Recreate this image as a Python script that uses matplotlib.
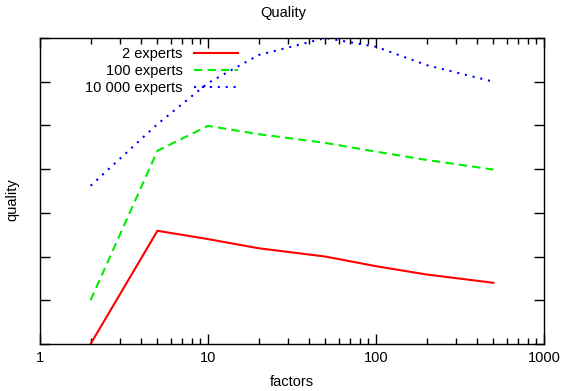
import matplotlib as mpl
mpl.use('Agg')
import matplotlib.pyplot as plt
from matplotlib.ticker import LogLocator, NullFormatter, FixedLocator

plt.rcParams['font.family'] = ['Liberation Sans', 'DejaVu Sans']

factors = [2, 5, 10, 20, 50, 100, 200, 500]
q_2 = [0.0, 2.59, 2.40, 2.19, 2.0, 1.78, 1.59, 1.40]
q_100 = [1.0, 4.42, 4.99, 4.80, 4.60, 4.40, 4.21, 3.99]
q_10000 = [3.62, 5.03, 5.97, 6.61, 7.0, 6.80, 6.38, 6.0]

fig = plt.figure(figsize=(5.67, 3.91), dpi=100)
ax = fig.add_axes([40/567, 1 - 344/391, 504/567, 306/391])

ax.plot(factors, q_2, color='#ff0000', lw=1.5, label='2 experts')
ax.plot(factors, q_100, color='#00ee00', lw=1.5, dashes=(4, 2.5), label='100 experts')
ax.plot(factors, q_10000, color='#0000ff', lw=1.5, dashes=(1, 2.8), label='10 000 experts')

ax.set_xscale('log')
ax.set_xlim(1, 1000)
ax.set_ylim(0, 7)
ax.xaxis.set_major_locator(FixedLocator([1, 10, 100, 1000]))
ax.set_xticklabels(['1', '10', '100', '1000'])
ax.xaxis.set_minor_locator(LogLocator(base=10, subs=range(2, 10)))
ax.xaxis.set_minor_formatter(NullFormatter())
ax.set_yticks(range(8))
ax.set_yticklabels([])
ax.tick_params(which='both', direction='in', top=True, right=True, labelsize=10.5, pad=5)
ax.tick_params(which='major', length=7, width=1)
ax.tick_params(which='minor', length=4, width=1)
for s in ax.spines.values():
    s.set_linewidth(1)

fig.text(283/567, 1 - 13/391, 'Quality', fontsize=10.5, ha='center', va='center')
fig.text(292/567, 1 - 382/391, 'factors', fontsize=10.5, ha='center', va='center')
fig.text(12/567, 1 - 200/391, 'quality', fontsize=10.5, ha='center', va='center', rotation=90)

leg = ax.legend(loc='upper left', frameon=False, fontsize=10.5, markerfirst=False,
                handlelength=3.0, handletextpad=0.8, labelspacing=0.22,
                borderaxespad=0.2, bbox_to_anchor=(0.072, 1.0))
for t in leg.get_texts():
    t.set_ha('right')
leg._legend_box.align = 'right'

fig.savefig('out.png', dpi=100)
